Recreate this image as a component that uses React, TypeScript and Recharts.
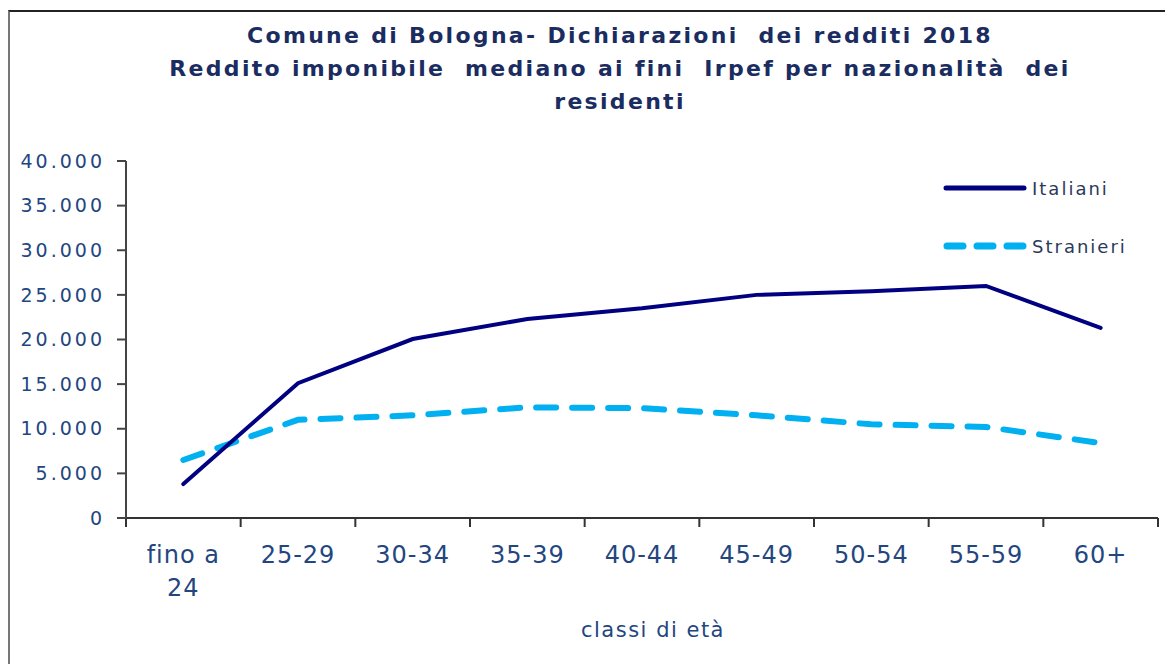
import React from 'react';
import { LineChart, Line, XAxis, YAxis } from 'recharts';

// classi di età
const categories = ['fino a 24', '25-29', '30-34', '35-39', '40-44', '45-49', '50-54', '55-59', '60+'];
// reddito imponibile mediano (euro)
const italiani = [3800, 15100, 20050, 22300, 23500, 25000, 25400, 26000, 21300];
const stranieri = [6500, 11000, 11500, 12400, 12300, 11500, 10500, 10200, 8400];
const yTicks = [0, 5000, 10000, 15000, 20000, 25000, 30000, 35000, 40000];
const xTicks = [0, 1, 2, 3, 4, 5, 6, 7, 8, 9];

const titleLines = [
  'Comune di Bologna- Dichiarazioni  dei redditi 2018',
  'Reddito imponibile  mediano ai fini  Irpef per nazionalità  dei',
  'residenti',
];

const data = categories.map((cat, i) => ({
  pos: i + 0.5,
  cat,
  italiani: italiani[i],
  stranieri: stranieri[i],
}));

const W = 1165;
const H = 664;
const PLOT_LEFT = 126;
const PLOT_RIGHT = 1158;
const HALF_BAND = (PLOT_RIGHT - PLOT_LEFT) / categories.length / 2;

const textBlue = '#23467f';
const font = '"DejaVu Sans", Verdana, sans-serif';

const fmt = (v: number) => String(v).replace(/\B(?=(\d{3})+(?!\d))/g, '.');

const CatTick = (props: any) => {
  const { x, payload } = props;
  const label = categories[payload.value];
  if (label === undefined) return <g />;
  const parts = label === 'fino a 24' ? ['fino a', '24'] : [label];
  return (
    <g>
      {parts.map((p, i) => (
        <text
          key={i}
          x={x + HALF_BAND}
          y={563 + i * 33}
          textAnchor="middle"
          fill={textBlue}
          fontSize={24}
          fontFamily={font}
          style={{ letterSpacing: 1 }}
        >
          {p}
        </text>
      ))}
    </g>
  );
};

const LegendOverlay = () => (
  <div style={{ position: 'absolute', left: 940, top: 170, fontFamily: font, fontSize: 18, color: '#2b3a5c', letterSpacing: 2 }}>
    <div style={{ display: 'flex', alignItems: 'center', height: 36 }}>
      <svg width={92} height={12}>
        <line x1={6} y1={6} x2={84} y2={6} stroke="#000080" strokeWidth={5} strokeLinecap="round" />
      </svg>
      <span>Italiani</span>
    </div>
    <div style={{ display: 'flex', alignItems: 'center', height: 36, marginTop: 22 }}>
      <svg width={92} height={12}>
        <line x1={7} y1={6} x2={84} y2={6} stroke="#00b0f0" strokeWidth={7} strokeLinecap="round" strokeDasharray="16 14" />
      </svg>
      <span>Stranieri</span>
    </div>
  </div>
);

export default function App() {
  return (
    <div style={{ position: 'absolute', left: 0, top: 0, width: W, height: H, overflow: 'hidden', background: '#fff' }}>
      <div
        style={{
          position: 'absolute',
          left: 8,
          top: 10,
          width: W + 20,
          height: H + 20,
          borderLeft: '2px solid #777',
          borderTop: '2px solid #222',
        }}
      />
      <div
        style={{
          position: 'absolute',
          left: 70,
          top: 19,
          width: 1100,
          textAlign: 'center',
          fontFamily: font,
          fontWeight: 'bold',
          fontSize: 22,
          lineHeight: '33px',
          letterSpacing: 2.3,
          color: '#1a2c60',
          whiteSpace: 'pre',
        }}
      >
        {titleLines.map((t, i) => (
          <div key={i}>{t}</div>
        ))}
      </div>
      <LineChart width={W} height={H} data={data} margin={{ top: 161, right: W - PLOT_RIGHT, bottom: 0, left: 0 }}>
        <XAxis
          type="number"
          dataKey="pos"
          domain={[0, 9]}
          ticks={xTicks}
          interval={0}
          height={H - 518}
          tickSize={9}
          tick={<CatTick />}
          axisLine={{ stroke: '#333', strokeWidth: 2 }}
          tickLine={{ stroke: '#333', strokeWidth: 2 }}
        />
        <YAxis
          domain={[0, 40000]}
          ticks={yTicks}
          interval={0}
          width={PLOT_LEFT}
          tickSize={9}
          tickMargin={12}
          tickFormatter={fmt}
          tick={{ fill: textBlue, fontSize: 19, fontFamily: font, style: { letterSpacing: 3 } }}
          axisLine={{ stroke: '#444', strokeWidth: 2 }}
          tickLine={{ stroke: '#444', strokeWidth: 2 }}
        />
        <Line
          type="linear"
          dataKey="stranieri"
          stroke="#00b0f0"
          strokeWidth={6}
          strokeDasharray="20 16"
          strokeLinecap="round"
          dot={false}
          isAnimationActive={false}
        />
        <Line
          type="linear"
          dataKey="italiani"
          stroke="#000080"
          strokeWidth={4}
          strokeLinecap="round"
          dot={false}
          isAnimationActive={false}
        />
      </LineChart>
      <div
        style={{
          position: 'absolute',
          left: 553,
          top: 618,
          width: 200,
          textAlign: 'center',
          fontFamily: font,
          fontSize: 21,
          letterSpacing: 1.5,
          color: textBlue,
        }}
      >
        classi di età
      </div>
      <LegendOverlay />
    </div>
  );
}
